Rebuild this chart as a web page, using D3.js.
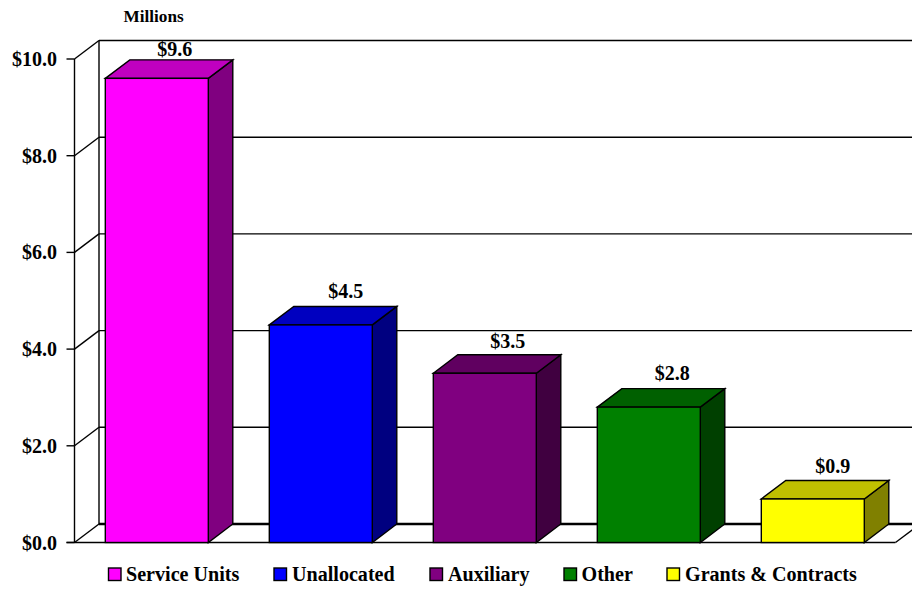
<!DOCTYPE html>
<html><head><meta charset="utf-8">
<script src="https://cdn.jsdelivr.net/npm/d3@7"></script>
<style>html,body{margin:0;padding:0;background:#fff}svg{display:block}text{font-family:"Liberation Serif",serif;font-weight:bold;fill:#000}</style>
</head><body><div id="c"></div>
<script>
const categories=["Service Units","Unallocated","Auxiliary","Other","Grants & Contracts"];
const values=[9.6,4.5,3.5,2.8,0.9];
const valueLabels=["$9.6","$4.5","$3.5","$2.8","$0.9"];
const frontColors=["#ff00ff","#0000ff","#800080","#008000","#ffff00"];
const topColors=["#c000c0","#0000c0","#600060","#006000","#c0c000"];
const sideColors=["#800080","#000080","#400040","#004000","#808000"];
const ticks=[0,2,4,6,8,10];
const legendX=[108.5,274,430,564,667];
const legendTextX=[126,292,448,581.5,685];
const labelNudgeX=[18,25,23,23.5,20];
const labelNudgeY=[3.5,8.5,7,9,7.5];
const W=912,H=591,dx=24.5,dy=-18.5;
const svg=d3.select("#c").append("svg").attr("width",W).attr("height",H);
const y=d3.scaleLinear().domain([0,10]).range([542.5,59]);
const x=d3.scaleBand().domain(categories).range([74.8,894.8]).paddingInner(0.372).paddingOuter(0.186);
const x0=74.5;
const line=(a,b,c,d,w=1.4)=>svg.append("line").attr("x1",a).attr("y1",b).attr("x2",c).attr("y2",d).attr("stroke","#000").attr("stroke-width",w);
line(x0,y(0),x0,y(10));
line(x0+dx,y(0)+dy,x0+dx,y(10)+dy);
ticks.forEach(t=>{
  line(x0-8,y(t),x0,y(t));
  line(x0,y(t),x0+dx,y(t)+dy);
  line(x0+dx,y(t)+dy,W,y(t)+dy,t===0?2.6:1.4);
});
line(x0-8,y(0),x0+821,y(0));
line(x0+821,y(0),x0+821+dx,y(0)+dy);
svg.append("g").selectAll("text").data(ticks).join("text")
  .attr("x",57).attr("y",t=>y(t)+7).attr("text-anchor","end").attr("font-size",20)
  .text(t=>"$"+d3.format(".1f")(t));
svg.append("text").attr("x",123.5).attr("y",21.5).attr("font-size",17.2).text("Millions");
const g=svg.append("g").selectAll("g").data(categories).join("g");
const w=x.bandwidth();
const pts=a=>a.map(p=>p.join(",")).join(" ");
g.append("polygon").attr("fill",(d,i)=>sideColors[i]).attr("stroke","#000").attr("stroke-width",1.4)
  .attr("points",(d,i)=>{const l=x(d)+w,t=y(values[i]),b=y(0);return pts([[l,t],[l+dx,t+dy],[l+dx,b+dy],[l,b]]);});
g.append("polygon").attr("fill",(d,i)=>topColors[i]).attr("stroke","#000").attr("stroke-width",1.4)
  .attr("points",(d,i)=>{const l=x(d),t=y(values[i]);return pts([[l,t],[l+dx,t+dy],[l+w+dx,t+dy],[l+w,t]]);});
g.append("rect").attr("x",d=>x(d)).attr("y",(d,i)=>y(values[i])).attr("width",w).attr("height",(d,i)=>y(0)-y(values[i]))
  .attr("fill",(d,i)=>frontColors[i]).attr("stroke","#000").attr("stroke-width",1.4);
g.append("text").attr("x",(d,i)=>x(d)+w/2+labelNudgeX[i]).attr("y",(d,i)=>y(values[i])+dy-labelNudgeY[i]).attr("text-anchor","middle").attr("font-size",20)
  .text((d,i)=>valueLabels[i]);
const lg=svg.append("g").selectAll("g").data(categories).join("g");
lg.append("rect").attr("x",(d,i)=>legendX[i]).attr("y",568).attr("width",12.5).attr("height",12.5)
  .attr("fill",(d,i)=>frontColors[i]).attr("stroke","#000").attr("stroke-width",1.4);
lg.append("text").attr("x",(d,i)=>legendTextX[i]).attr("y",581).attr("font-size",20.1).text(d=>d);
</script></body></html>
